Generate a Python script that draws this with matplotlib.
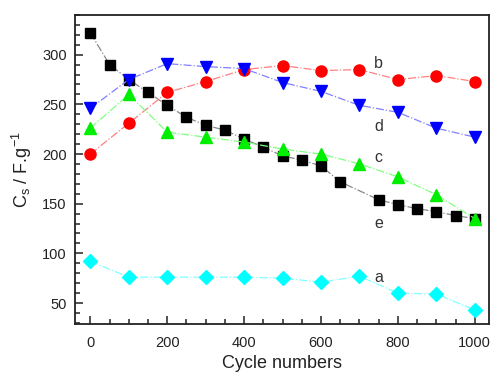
import matplotlib.pyplot as plt
from matplotlib.ticker import MultipleLocator

plt.rcParams['font.family'] = ['Liberation Sans', 'DejaVu Sans']
plt.rcParams['mathtext.default'] = 'regular'

# a - cyan diamonds
xa = [0, 100, 200, 300, 400, 500, 600, 700, 800, 900, 1000]
ya = [92, 76, 76, 76, 76, 75, 71, 77, 60, 59, 43]
# b - red circles
xb = [0, 100, 200, 300, 400, 500, 600, 700, 800, 900, 1000]
yb = [200, 231, 262, 273, 285, 289, 284, 285, 275, 279, 273]
# c - green up triangles
xc = [0, 100, 200, 300, 400, 500, 600, 700, 800, 900, 1000]
yc = [226, 260, 222, 217, 212, 205, 200, 190, 177, 159, 135]
# d - blue down triangles
xd = [0, 100, 200, 300, 400, 500, 600, 700, 800, 900, 1000]
yd = [246, 275, 291, 288, 286, 272, 263, 249, 242, 226, 217]
# e - black squares
xe = [0, 50, 100, 150, 200, 250, 300, 350, 400, 450, 500, 550, 600, 650, 750, 800, 850, 900, 950, 1000]
ye = [322, 290, 275, 262, 249, 237, 229, 224, 215, 207, 198, 194, 188, 172, 154, 149, 145, 142, 138, 135]

labels = ['a', 'b', 'c', 'd', 'e']
label_y = [76, 291, 196, 228, 130]

fig = plt.figure(figsize=(4.9, 3.74), dpi=100)
ax = fig.add_axes([0.153, 0.134, 0.845, 0.826])

ax.plot(xe, ye, color='#888888', ls='-.', lw=0.9, marker='s', ms=7.5,
        mfc='black', mec='black')
ax.plot(xb, yb, color='#ff8080', ls='-.', lw=0.9, marker='o', ms=8,
        mfc='red', mec='red')
ax.plot(xd, yd, color='#8080ff', ls='-.', lw=0.9, marker='v', ms=8.5,
        mfc='blue', mec='blue')
ax.plot(xc, yc, color='#80ff80', ls='-.', lw=0.9, marker='^', ms=8.5,
        mfc='#00ee00', mec='#00ee00')
ax.plot(xa, ya, color='#80ffff', ls='-.', lw=0.9, marker='D', ms=7,
        mfc='cyan', mec='cyan')

for lab, yy in zip(labels, label_y):
    ax.text(750, yy, lab, fontsize=11.5, color='#333333', ha='center', va='center')

ax.set_xlim(-40, 1037)
ax.set_ylim(29, 340)
ax.xaxis.set_major_locator(MultipleLocator(200))
ax.xaxis.set_minor_locator(MultipleLocator(50))
ax.yaxis.set_major_locator(MultipleLocator(50))
ax.yaxis.set_minor_locator(MultipleLocator(10))
ax.tick_params(which='both', direction='in', top=False, right=False, labelsize=10.5,
               width=1.2, colors='#333333', labelcolor='#222222')
ax.tick_params(which='major', length=6)
ax.tick_params(which='minor', length=3.5)
ax.tick_params(axis='x', pad=9)
ax.tick_params(axis='y', pad=6)
for sp in ax.spines.values():
    sp.set_linewidth(1.3)
    sp.set_color('#222222')

ax.set_xlabel('Cycle numbers', fontsize=13, color='#222222', labelpad=3)
ax.set_ylabel('C$_s$ / F.g$^{-1}$', fontsize=13, color='#222222', labelpad=6)

fig.savefig('out.png', dpi=100)
